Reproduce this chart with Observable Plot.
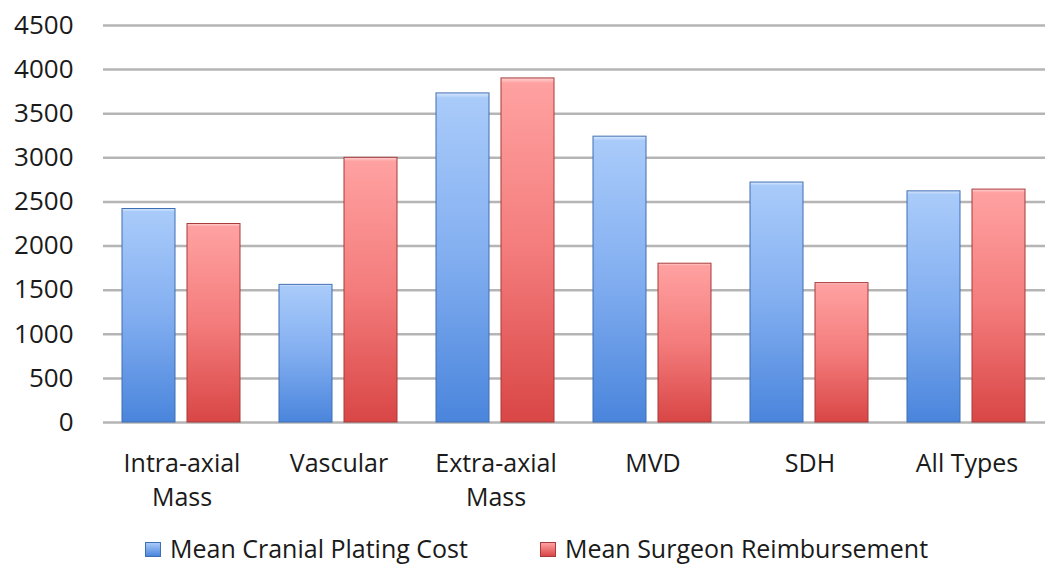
<!DOCTYPE html>
<html>
<head>
<meta charset="utf-8">
<script src="https://cdn.jsdelivr.net/npm/d3@7"></script>
<script src="https://cdn.jsdelivr.net/npm/@observablehq/plot@0.6"></script>
<style>
  html, body { margin: 0; padding: 0; background: #fff; overflow: hidden; }
  #chart { width: 1047px; }
  #legend { display: flex; align-items: center; height: 32px; line-height: 32px; margin-top: 12px; padding-left: 145px; font-family: "Open Sans", sans-serif; font-size: 25px; color: #1a1a1a; }
  .item { display: flex; align-items: center; }
  .item + .item { margin-left: 72px; }
  .sw { width: 16px; height: 15px; margin-right: 9px; margin-top: 2px; border: 1px solid; box-sizing: border-box; }
</style>
</head>
<body>
<div id="chart"></div>
<script>
const categories = ["Intra-axial\nMass", "Vascular", "Extra-axial\nMass", "MVD", "SDH", "All Types"];
const series = ["Mean Cranial Plating Cost", "Mean Surgeon Reimbursement"];
const platingCost = [2420, 1560, 3730, 3240, 2720, 2620];
const reimbursement = [2250, 3000, 3900, 1800, 1580, 2640];
const yTicks = [0, 500, 1000, 1500, 2000, 2500, 3000, 3500, 4000, 4500];

const costData = categories.map((c, i) => ({category: c, series: series[0], value: platingCost[i]}));
const reimbData = categories.map((c, i) => ({category: c, series: series[1], value: reimbursement[i]}));

const plot = Plot.plot({
  width: 1047,
  height: 520,
  marginLeft: 102,
  marginRight: 2,
  marginTop: 25,
  marginBottom: 98,
  style: {fontFamily: "Open Sans, sans-serif", fontSize: "25px", color: "#1a1a1a", background: "#fff"},
  fx: {domain: categories, padding: 0, label: null},
  x: {domain: series, paddingInner: 0.18, paddingOuter: 0.28, axis: null},
  y: {domain: [0, 4500], label: null},
  marks: [
    Plot.gridY(yTicks, {stroke: "#b5b5b5", strokeOpacity: 1, strokeWidth: 2.5}),
    Plot.barY(costData, {fx: "category", x: "series", y: "value", fill: "url(#gBlue)", stroke: "#3f6fb3", strokeWidth: 1}),
    Plot.barY(reimbData, {fx: "category", x: "series", y: "value", fill: "url(#gRed)", stroke: "#a83b3b", strokeWidth: 1}),
    Plot.axisY({ticks: yTicks, tickFormat: d3.format("d"), tickSize: 0, tickPadding: 30, fontSize: 26, label: null}),
    Plot.axisFx({anchor: "bottom", tickSize: 0, tickPadding: 26, fontSize: 25, lineHeight: 1.35, label: null})
  ]
});

const svg = d3.select(plot);
const defs = svg.insert("defs", ":first-child");
function grad(id, stops) {
  const g = defs.append("linearGradient").attr("id", id).attr("x1", 0).attr("y1", 0).attr("x2", 0).attr("y2", 1);
  stops.forEach(([o, c]) => g.append("stop").attr("offset", o).attr("stop-color", c));
}
grad("gBlue", [[0, "#dbe9fd"], [0.015, "#a9cbfa"], [0.5, "#82aef0"], [1, "#4a85dc"]]);
grad("gRed", [[0, "#ffd4d4"], [0.015, "#ffa1a1"], [0.5, "#f47c7c"], [1, "#d94646"]]);

document.getElementById("chart").appendChild(plot);

const legend = document.createElement("div");
legend.id = "legend";
const colors = [["linear-gradient(#a9cbfa,#4a85dc)", "#3f6fb3"], ["linear-gradient(#ffa1a1,#d94646)", "#a83b3b"]];
series.forEach((s, i) => {
  const item = document.createElement("div");
  item.className = "item";
  const sw = document.createElement("div");
  sw.className = "sw";
  sw.style.background = colors[i][0];
  sw.style.borderColor = colors[i][1];
  item.appendChild(sw);
  const t = document.createElement("span");
  t.textContent = s;
  item.appendChild(t);
  legend.appendChild(item);
});
document.getElementById("chart").appendChild(legend);
</script>
</body>
</html>
